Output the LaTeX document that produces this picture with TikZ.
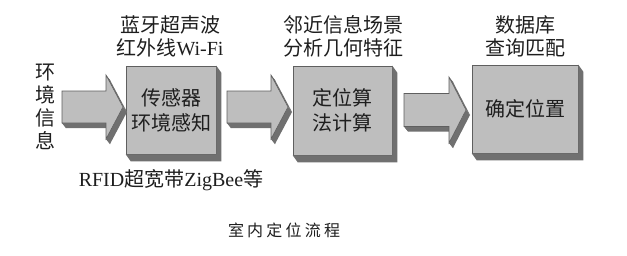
\documentclass[tikz,border=0pt]{standalone}
\usepackage{fontspec}
\setmainfont{Liberation Serif}
\newfontfamily\cjk{Noto Sans CJK SC}
\usetikzlibrary{calc}

\definecolor{facecol}{RGB}{190,190,190}
\definecolor{sidecol}{RGB}{112,112,112}
\definecolor{edgecol}{RGB}{95,95,95}
\definecolor{txtcol}{RGB}{30,30,30}

\tikzset{
  stagebox/.style={fill=facecol, draw=edgecol, line width=0.6pt, inner sep=0pt,
    align=center, text=txtcol, font=\cjk\fontsize{20}{25}\selectfont},
  lbl/.style={align=center, text=txtcol, inner sep=0pt, font=\fontsize{20}{23}\selectfont},
}

% block arrow: x0, xbase, xtip, ycenter, shaft half height, head half height
\newcommand{\blockarr}[6]{%
  \path (#1,#4-#5) coordinate (A) (#2,#4-#5) coordinate (B) (#2,#4-#6) coordinate (C)
        (#3,#4) coordinate (D) (#2,#4+#6) coordinate (E) (#2,#4+#5) coordinate (F)
        (#1,#4+#5) coordinate (G);
  \foreach \p/\q in {A/B,B/C,C/D,D/E,E/F,F/G,G/A}
    \fill[sidecol] (\p) -- (\q) -- ([shift={(4,5)}]\q) -- ([shift={(4,5)}]\p) -- cycle;
  \filldraw[fill=facecol, draw=edgecol, line width=0.6pt]
    (A)--(B)--(C)--(D)--(E)--(F)--(G)--cycle;
}
\newcommand{\boxside}[1]{%
  \fill[sidecol] (#1.north east) -- ++(5,7) -- ($(#1.south east)+(5,7)$)
    -- ($(#1.south west)+(5,7)$) -- (#1.south west) -- (#1.south east) -- cycle;}

\begin{document}
\begin{tikzpicture}[x=1pt,y=-1pt]
\useasboundingbox (0,0) rectangle (627,255);
\fill[white] (0,0) rectangle (627,255);

% stage boxes
\node[stagebox, minimum width=90pt, minimum height=88pt] (b1) at (171,110) {传感器\\环境感知};
\boxside{b1}
\node[stagebox, minimum width=99pt, minimum height=89pt] (b2) at (342.5,110.5) {定位算\\法计算};
\boxside{b2}
\node[stagebox, minimum width=106pt, minimum height=88pt] (b3) at (525,109) {确定位置};
\boxside{b3}

% block arrows
\blockarr{62}{106}{123}{107}{16}{32}
\blockarr{227}{271}{288}{107}{16}{32}
\blockarr{404}{449}{466}{110}{16.5}{33}

% labels
\node[lbl, font=\cjk\fontsize{20}{23}\selectfont] (env) at (45,107) {环\\境\\信\\息};
\node[lbl] (t1) at (170,36.5) {{\cjk 蓝牙超声波}\\{\cjk 红外线}Wi-Fi};
\node[lbl] (t2) at (343,36.5) {{\cjk 邻近信息场景}\\{\cjk 分析几何特征}};
\node[lbl] (t3) at (525,36.5) {{\cjk 数据库}\\{\cjk 查询匹配}};
\node[lbl] (rf) at (171,180) {RFID{\cjk 超宽带}ZigBee{\cjk 等}};
\node[lbl, font=\cjk\fontsize{16}{18}\selectfont] (cap) at (284,230)
  {室\hspace{3.2pt}内\hspace{3.2pt}定\hspace{3.2pt}位\hspace{3.2pt}流\hspace{3.2pt}程};
\end{tikzpicture}
\end{document}
